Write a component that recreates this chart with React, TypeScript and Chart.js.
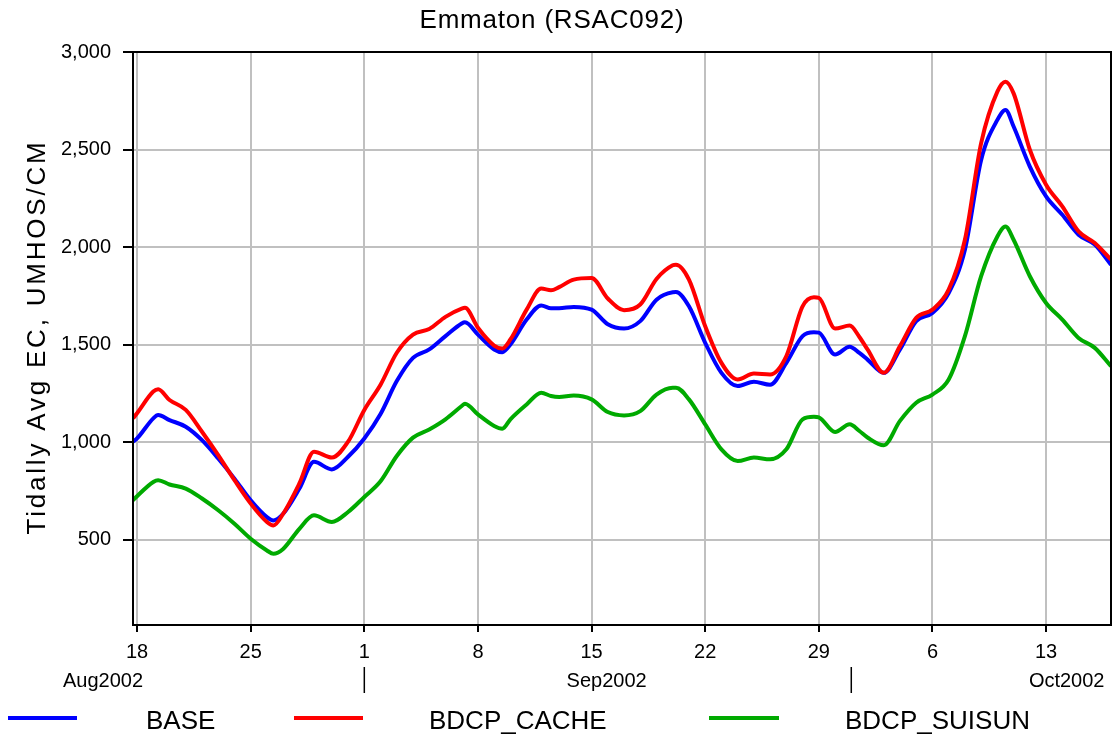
import React, { useEffect, useRef } from "react";
import { Chart, registerables } from "chart.js";

Chart.register(...registerables);

// x values: days after 18 Aug 2002
const days = [
  -0.25, 0, 1, 1.3, 2, 3, 4, 5, 6, 7, 8, 8.4, 9, 10, 10.9, 12, 13, 14, 15, 16, 17, 18, 19, 20, 20.2, 21, 22,
  22.5, 23, 24, 24.9, 25.5, 26, 26.9, 28, 29, 30, 31, 32, 33, 33.2, 34, 35, 36, 37, 38, 39, 40, 41, 41.7, 42,
  43, 43.9, 44.5, 45, 46, 47, 48, 49, 50, 51, 52, 53, 53.5, 54, 55, 56, 57, 58, 59, 60,
];

const baseValues = [
  1003, 1020, 1123, 1140, 1114, 1080, 1011, 917, 814, 703, 617, 600, 634, 763, 900, 861, 926, 1020, 1145, 1314,
  1433, 1476, 1544, 1609, 1615, 1552, 1476, 1462, 1501, 1629, 1701, 1687, 1687, 1694, 1680, 1605, 1583, 1621,
  1731, 1769, 1770, 1697, 1510, 1356, 1288, 1310, 1295, 1407, 1544, 1564, 1562, 1450, 1490, 1458, 1424, 1356,
  1476, 1621, 1663, 1765, 1987, 2447, 2652, 2703, 2618, 2413, 2260, 2166, 2064, 2013, 1910,
];

const cacheValues = [
  1123, 1149, 1260, 1272, 1217, 1166, 1054, 934, 806, 686, 592, 574, 634, 789, 952, 922, 1003, 1166, 1295, 1459,
  1552, 1581, 1643, 1685, 1689, 1587, 1496, 1481, 1527, 1680, 1788, 1779, 1795, 1834, 1842, 1737, 1677, 1706,
  1837, 1907, 1910, 1834, 1595, 1407, 1322, 1353, 1348, 1442, 1697, 1743, 1740, 1583, 1598, 1540, 1476, 1356,
  1493, 1638, 1680, 1782, 2038, 2533, 2797, 2848, 2788, 2499, 2320, 2209, 2081, 2021, 1936,
];

const suisunValues = [
  703, 724, 797, 806, 784, 763, 712, 652, 583, 506, 446, 429, 454, 557, 626, 592, 643, 720, 800, 930, 1024,
  1066, 1118, 1186, 1198, 1143, 1084, 1070, 1118, 1194, 1254, 1237, 1232, 1240, 1220, 1155, 1138, 1160, 1245,
  1280, 1280, 1220, 1092, 964, 904, 922, 913, 964, 1118, 1131, 1128, 1053, 1092, 1058, 1025, 985, 1110, 1203,
  1245, 1322, 1544, 1851, 2055, 2106, 2038, 1851, 1714, 1629, 1535, 1484, 1390,
];

const seriesNames = ["BASE", "BDCP_CACHE", "BDCP_SUISUN"];
const seriesColors = ["#0000ff", "#ff0000", "#00aa00"];

const xTickDays = [0, 7, 14, 21, 28, 35, 42, 49, 56];
const xTickLabels = ["18", "25", "1", "8", "15", "22", "29", "6", "13"];
const yTickValues = [500, 1000, 1500, 2000, 2500, 3000];

const monthLabels = ["Aug2002", "Sep2002", "Oct2002"];
const monthLabelDays = [-2.1, 28.93, 57.27];
const monthBoundaryDays = [14, 44];

const titleText = "Emmaton (RSAC092)";
const yTitleText = "Tidally Avg EC, UMHOS/CM";

const FONT = "'Liberation Sans', Arial, sans-serif";

export default function App() {
  const ref = useRef<HTMLCanvasElement | null>(null);

  useEffect(() => {
    if (!ref.current) return;
    const mk = (vals: number[]) => days.map((d, i) => ({ x: d, y: vals[i] }));

    const decor = {
      id: "decor",
      beforeDraw(chart: any) {
        const ctx = chart.ctx;
        ctx.save();
        ctx.fillStyle = "#ffffff";
        ctx.fillRect(0, 0, chart.width, chart.height);
        ctx.restore();
      },
      afterDraw(chart: any) {
        const ctx = chart.ctx;
        const a = chart.chartArea;
        const xs = chart.scales.x;
        ctx.save();
        // frame
        ctx.strokeStyle = "#000";
        ctx.lineWidth = 2;
        ctx.strokeRect(a.left, a.top, a.right - a.left, a.bottom - a.top);

        ctx.fillStyle = "#000";
        // title
        ctx.font = `26px ${FONT}`;
        (ctx as any).letterSpacing = "0.8px";
        ctx.textAlign = "center";
        ctx.textBaseline = "alphabetic";
        ctx.fillText(titleText, 552, 28);

        // y title
        ctx.save();
        ctx.translate(45, 337);
        ctx.rotate(-Math.PI / 2);
        ctx.font = `26px ${FONT}`;
        (ctx as any).letterSpacing = "2.8px";
        ctx.textAlign = "center";
        ctx.fillText(yTitleText, 0, 0);
        ctx.restore();

        (ctx as any).letterSpacing = "0px";
        // month labels
        ctx.font = `20px ${FONT}`;
        ctx.textAlign = "center";
        monthLabels.forEach((m, i) => {
          ctx.fillText(m, xs.getPixelForValue(monthLabelDays[i]), 687);
        });
        // month separators
        ctx.lineWidth = 1.5;
        monthBoundaryDays.forEach((d) => {
          const px = xs.getPixelForValue(d);
          ctx.beginPath();
          ctx.moveTo(px, 667);
          ctx.lineTo(px, 693);
          ctx.stroke();
        });

        // legend
        const segs = [
          [8, 77],
          [294, 363],
          [709, 779],
        ];
        const textX = [146, 429, 845];
        ctx.font = `26px ${FONT}`;
        ctx.textAlign = "left";
        seriesNames.forEach((n, i) => {
          ctx.strokeStyle = seriesColors[i];
          ctx.lineWidth = 4;
          ctx.beginPath();
          ctx.moveTo(segs[i][0], 718);
          ctx.lineTo(segs[i][1], 718);
          ctx.stroke();
          ctx.fillStyle = "#000";
          ctx.fillText(n, textX[i], 729);
        });
        ctx.restore();
      },
    };

    const chart = new Chart(ref.current, {
      type: "line",
      data: {
        datasets: [
          { label: seriesNames[0], data: mk(baseValues), borderColor: seriesColors[0], order: 2 },
          { label: seriesNames[1], data: mk(cacheValues), borderColor: seriesColors[1], order: 1 },
          { label: seriesNames[2], data: mk(suisunValues), borderColor: seriesColors[2], order: 0 },
        ].map((d) => ({
          ...d,
          borderWidth: 4,
          pointRadius: 0,
          fill: false,
          tension: 0.4,
          cubicInterpolationMode: "monotone" as const,
        })),
      },
      options: {
        responsive: false,
        animation: false,
        events: [],
        layout: { padding: { top: 52, right: 3, left: 0, bottom: 0 } },
        plugins: { legend: { display: false }, title: { display: false }, tooltip: { enabled: false } },
        scales: {
          x: {
            type: "linear",
            min: -0.25,
            max: 60,
            afterBuildTicks: (s: any) => {
              s.ticks = xTickDays.map((v) => ({ value: v }));
            },
            afterFit: (s: any) => {
              s.height = 111;
            },
            ticks: {
              autoSkip: false,
              maxRotation: 0,
              padding: 8,
              color: "#000",
              font: { family: FONT, size: 20 },
              callback: (v: any) => {
                const i = xTickDays.indexOf(Number(v));
                return i >= 0 ? xTickLabels[i] : "";
              },
            },
            grid: { color: "#c0c0c0", lineWidth: 2, tickLength: 7, tickColor: "#000", tickWidth: 2 },
            border: { display: true, color: "#000", width: 2 },
          },
          y: {
            min: 64,
            max: 3000,
            afterBuildTicks: (s: any) => {
              s.ticks = yTickValues.map((v) => ({ value: v }));
            },
            afterFit: (s: any) => {
              s.width = 133;
            },
            ticks: {
              padding: 12,
              color: "#000",
              font: { family: FONT, size: 20 },
              callback: (v: any) => Number(v).toLocaleString("en-US"),
            },
            grid: { color: "#c0c0c0", lineWidth: 2, tickLength: 10, tickColor: "#000", tickWidth: 2 },
            border: { display: true, color: "#000", width: 2 },
          },
        },
      },
      plugins: [decor],
    } as any);
    return () => chart.destroy();
  }, []);

  return (
    <div style={{ position: "absolute", left: 0, top: 0, width: 1114, height: 736, background: "#fff" }}>
      <canvas ref={ref} width={1114} height={736} style={{ width: 1114, height: 736, display: "block" }} />
    </div>
  );
}
